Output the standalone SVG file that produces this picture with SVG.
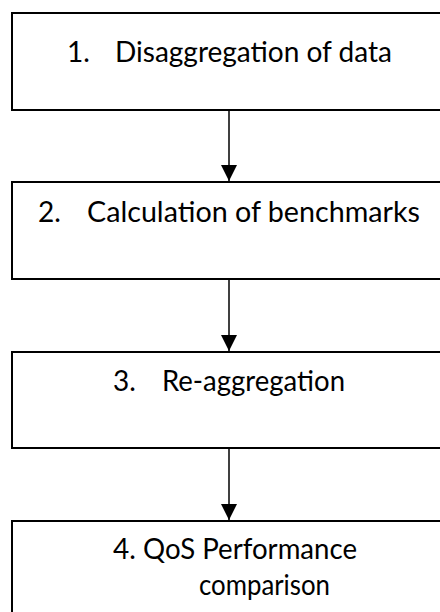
<svg xmlns="http://www.w3.org/2000/svg" width="440" height="612" viewBox="0 0 440 612">
<style>
.box{fill:#fff;stroke:#000;stroke-width:2}
.t{font-family:Lato,"Open Sans",sans-serif;font-size:28px;fill:#000}
.c{stroke:#000;stroke-width:1.5;fill:none}
</style>
<defs>
<marker id="ah" markerWidth="16" markerHeight="16" refX="15" refY="7.5" orient="auto" markerUnits="userSpaceOnUse" viewBox="0 0 15 15">
<path d="M0,0 L15,7.5 L0,15 Z" fill="#000"/>
</marker>
</defs>
<g id="connectors">
<line class="c" x1="229" y1="110" x2="229" y2="181" marker-end="url(#ah)"/>
<line class="c" x1="229" y1="279" x2="229" y2="351" marker-end="url(#ah)"/>
<line class="c" x1="229" y1="448" x2="229" y2="520" marker-end="url(#ah)"/>
</g>
<g id="node1">
<rect class="box" x="12" y="13" width="460" height="97"/>
<text class="t" x="67" y="62">1.</text>
<text class="t" x="115" y="62" textLength="277" lengthAdjust="spacingAndGlyphs">Disaggregation of data</text>
</g>
<g id="node2">
<rect class="box" x="12" y="182" width="460" height="97"/>
<text class="t" x="38" y="222">2.</text>
<text class="t" x="87" y="222" textLength="333" lengthAdjust="spacingAndGlyphs">Calculation of benchmarks</text>
</g>
<g id="node3">
<rect class="box" x="12" y="352" width="460" height="96"/>
<text class="t" x="113" y="391">3.</text>
<text class="t" x="162" y="391" textLength="183" lengthAdjust="spacingAndGlyphs">Re-aggregation</text>
</g>
<g id="node4">
<rect class="box" x="12" y="521" width="460" height="120"/>
<text class="t" x="113" y="559">4.</text>
<text class="t" x="143" y="559" textLength="214" lengthAdjust="spacingAndGlyphs">QoS Performance</text>
<text class="t" x="199" y="595" textLength="131" lengthAdjust="spacingAndGlyphs">comparison</text>
</g>
</svg>
